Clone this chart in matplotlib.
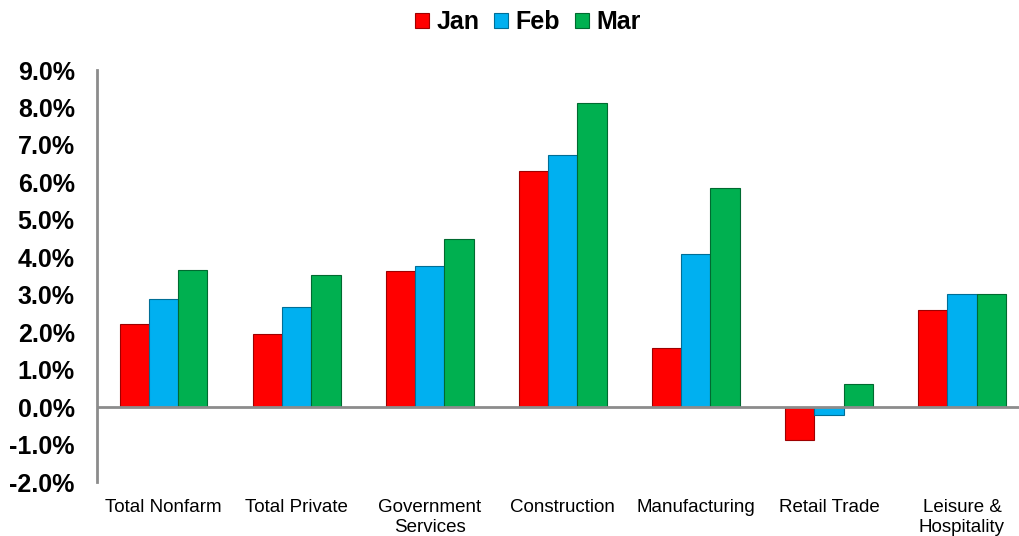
import matplotlib
matplotlib.use("Agg")
import matplotlib.pyplot as plt
import numpy as np
from matplotlib.ticker import FuncFormatter

categories = ["Total Nonfarm", "Total Private", "Government\nServices", "Construction",
              "Manufacturing", "Retail Trade", "Leisure &\nHospitality"]
jan = [2.22, 1.95, 3.63, 6.30, 1.58, -0.88, 2.59]
feb = [2.88, 2.67, 3.77, 6.73, 4.09, -0.20, 3.02]
mar = [3.66, 3.52, 4.49, 8.12, 5.85, 0.61, 3.02]
series = [("Jan", jan, "#FF0000", "#9E0000"),
          ("Feb", feb, "#00B0F0", "#006E96"),
          ("Mar", mar, "#00B050", "#006A30")]

plt.rcParams['font.family'] = ['Liberation Sans', 'DejaVu Sans']

fig = plt.figure(figsize=(10.19, 5.36), dpi=100)
ax = fig.add_axes([97/1019, 54/536, (1028.5-97)/1019, 412/536])

x = np.arange(len(categories))
w = 0.22
for i, (name, vals, col, ec) in enumerate(series):
    ax.bar(x + (i - 1) * w, vals, width=w, color=col, edgecolor=ec, linewidth=0.8,
           label=name, zorder=2)

ax.set_xlim(-0.5, len(categories) - 0.5)
ax.set_ylim(-2, 9)
ax.set_yticks(np.arange(-2, 10, 1))
ax.yaxis.set_major_formatter(FuncFormatter(lambda v, p: f"{v:.1f}%"))
ax.tick_params(axis='y', length=0, pad=16, labelsize=18)
for t in ax.get_yticklabels():
    t.set_fontweight('bold')
ax.set_xticks(x)
ax.set_xticklabels(categories, fontsize=13.5, linespacing=1.25)
ax.tick_params(axis='x', length=0, pad=12)

for s in ['top', 'right', 'bottom']:
    ax.spines[s].set_visible(False)
ax.spines['left'].set_color('#8C8C8C')
ax.spines['left'].set_linewidth(2)
ax.axhline(0, color='#8C8C8C', linewidth=2, zorder=3)

leg = fig.legend(loc='center', bbox_to_anchor=(528/1019, 1 - 22/536), ncol=3,
                 frameon=False, prop={'size': 18, 'weight': 'bold'},
                 handlelength=0.55, handleheight=0.55, handletextpad=0.3, columnspacing=0.6)

fig.savefig("out.png", dpi=100)
